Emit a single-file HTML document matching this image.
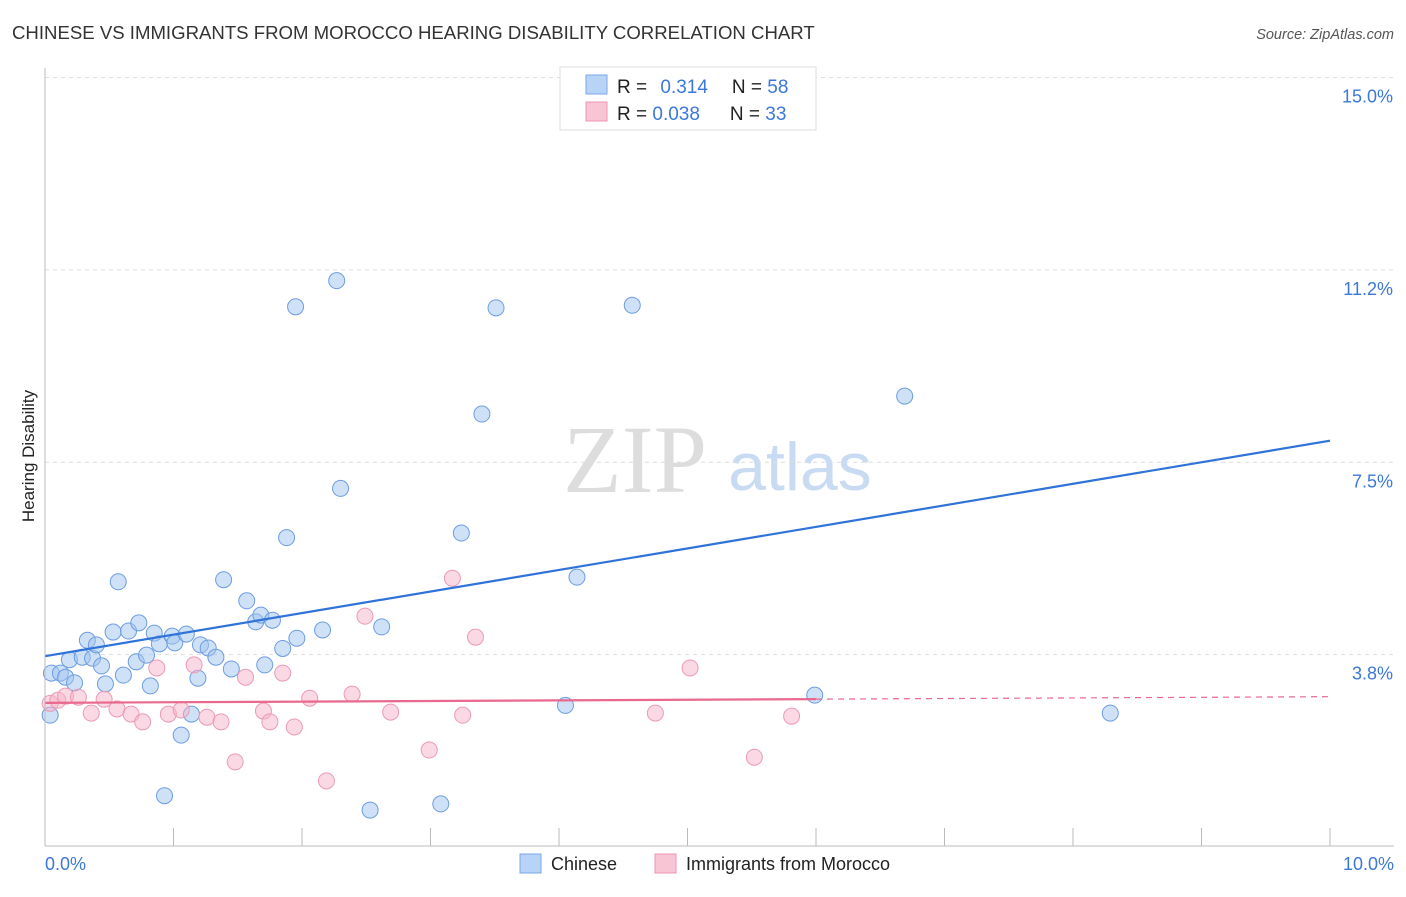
<!DOCTYPE html>
<html><head><meta charset="utf-8"><style>
body{margin:0;background:#fff;font-family:"Liberation Sans",sans-serif}
</style></head><body>
<svg id="c" width="1406" height="892" xmlns="http://www.w3.org/2000/svg" font-family="Liberation Sans, sans-serif">
<text x="12" y="39" font-size="18.6" fill="#333">CHINESE VS IMMIGRANTS FROM MOROCCO HEARING DISABILITY CORRELATION CHART</text>
<text x="1394" y="39" font-size="14.5" fill="#555" font-style="italic" text-anchor="end">Source: ZipAtlas.com</text>
<text x="635" y="492" font-size="96" fill="#ddd" font-family="Liberation Serif, serif" text-anchor="middle">ZIP</text>
<text x="800" y="490" font-size="68" fill="#c9dbf2" text-anchor="middle">atlas</text>
<text x="0" y="0" transform="translate(34,456) rotate(-90)" font-size="17" fill="#222" text-anchor="middle">Hearing Disability</text>
<g id="grid"></g><g id="pts"></g><g id="lines"></g>
<line x1="45" y1="68" x2="45" y2="846" stroke="#bbb"/>
<line x1="45" y1="846" x2="1394" y2="846" stroke="#bbb"/>
<text x="45" y="870" font-size="18" fill="#3b78d8">0.0%</text>
<text x="1394" y="870" font-size="18" fill="#3b78d8" text-anchor="end">10.0%</text>
<g>
<rect x="560" y="67" width="256" height="63" fill="#fff" stroke="#ddd"/>
<rect x="586" y="75" width="21" height="19" fill="#b7d3f6" stroke="#7aa7e6"/>
<rect x="586" y="102" width="21" height="19" fill="#f8c5d5" stroke="#ee94b0"/>
<text x="617" y="93" font-size="19" fill="#222">R = <tspan fill="#3b78d8" dx="8">0.314</tspan><tspan dx="24" fill="#222">N = </tspan><tspan fill="#3b78d8">58</tspan></text>
<text x="617" y="120" font-size="19" fill="#222">R = <tspan fill="#3b78d8">0.038</tspan><tspan dx="30" fill="#222">N = </tspan><tspan fill="#3b78d8">33</tspan></text>
</g>
<g>
<rect x="520" y="854" width="21" height="19" fill="#b7d3f6" stroke="#7aa7e6"/>
<text x="551" y="870" font-size="18" fill="#222">Chinese</text>
<rect x="655" y="854" width="21" height="19" fill="#f8c5d5" stroke="#ee94b0"/>
<text x="686" y="870" font-size="18" fill="#222">Immigrants from Morocco</text>
</g>
</svg>
<script>
const yTicks=[3.75,7.5,11.25,15];
const yTickLabels=["3.8%","7.5%","11.2%","15.0%"];
const xTicks=[1,2,3,4,5,6,7,8,9,10];
const chineseX=[0.05,0.12,0.16,0.19,0.23,0.29,0.33,0.37,0.40,0.44,0.47,0.53,0.57,0.61,0.65,0.71,0.73,0.79,0.82,0.85,0.89,0.99,1.01,1.06,1.10,1.14,1.19,1.21,1.27,1.33,1.39,1.45,1.57,1.64,1.68,1.71,1.77,1.85,1.88,1.95,1.96,2.16,2.27,2.30,2.53,2.62,3.08,3.24,3.40,3.51,4.05,4.14,4.57,5.99,6.69,8.29,0.93,0.04];
const chineseY=[3.39,3.39,3.31,3.65,3.20,3.70,4.03,3.68,3.94,3.53,3.18,4.19,5.17,3.35,4.21,3.61,4.37,3.74,3.14,4.17,3.96,4.11,3.98,2.18,4.15,2.59,3.29,3.94,3.88,3.70,5.21,3.47,4.80,4.39,4.52,3.55,4.42,3.87,6.03,10.53,4.07,4.23,11.04,6.99,0.72,4.29,0.84,6.12,8.44,10.51,2.76,5.26,10.56,2.96,8.79,2.61,1.00,2.57];
const moroccoX=[0.04,0.10,0.16,0.26,0.36,0.46,0.56,0.67,0.76,0.87,0.96,1.06,1.16,1.26,1.37,1.48,1.56,1.70,1.75,1.85,1.94,2.06,2.19,2.39,2.49,2.69,2.99,3.17,3.25,3.35,4.75,5.02,5.52,5.81];
const moroccoY=[2.80,2.86,2.94,2.92,2.61,2.88,2.69,2.59,2.44,3.49,2.59,2.67,3.55,2.53,2.44,1.66,3.31,2.65,2.44,3.39,2.34,2.90,1.29,2.98,4.50,2.63,1.89,5.24,2.57,4.09,2.61,3.49,1.75,2.55];
const chineseTrend=[3.72,7.92];
const moroccoTrend=[2.81,2.93];
const NS="http://www.w3.org/2000/svg";
const X=v=>45+v*128.5, Y=v=>847-v*51.3;
const grid=document.getElementById('grid'),pts=document.getElementById('pts'),lines=document.getElementById('lines');
function mk(tag,attrs,parent){const e=document.createElementNS(NS,tag);for(const k in attrs)e.setAttribute(k,attrs[k]);parent.appendChild(e);return e;}
yTicks.forEach((t,i)=>{
 const l=mk('line',{x1:45,x2:1394,y1:Y(t),y2:Y(t),stroke:'#ddd','stroke-dasharray':'4,4'},grid);
 
 
 const tx=mk('text',{x:1393,y:Y(t)+25,'font-size':18,fill:'#3b78d8','text-anchor':'end'},grid);
 tx.textContent=yTickLabels[i];
 
 
});
xTicks.forEach(t=>{
 const l=mk('line',{x1:X(t),x2:X(t),y1:828,y2:846,stroke:'#bbb'},grid);
 
 
});
chineseX.forEach((x,i)=>{
 const c=mk('circle',{cx:X(x),cy:Y(chineseY[i]),r:8,fill:'rgba(160,196,240,0.5)',stroke:'#6d9de0','stroke-width':1},pts);
 
 
});
moroccoX.forEach((x,i)=>{
 const c=mk('circle',{cx:X(x),cy:Y(moroccoY[i]),r:8,fill:'rgba(246,180,202,0.5)',stroke:'#ec9ab5','stroke-width':1},pts);
 
 
});
const bl=mk('line',{x1:X(0),y1:Y(chineseTrend[0]),x2:X(10),y2:Y(chineseTrend[1]),stroke:'#2f72d8','stroke-width':2.2},lines);


const mAt=x=>moroccoTrend[0]+(moroccoTrend[1]-moroccoTrend[0])*x/10;
const pl=mk('line',{x1:X(0),y1:Y(mAt(0)),x2:X(6),y2:Y(mAt(6)),stroke:'#e8688f','stroke-width':2.2},lines);


const pd=mk('line',{x1:X(6),y1:Y(mAt(6)),x2:X(10),y2:Y(mAt(10)),stroke:'#e8688f','stroke-width':1.2,'stroke-dasharray':'6,5'},lines);


</script>
</body></html>
